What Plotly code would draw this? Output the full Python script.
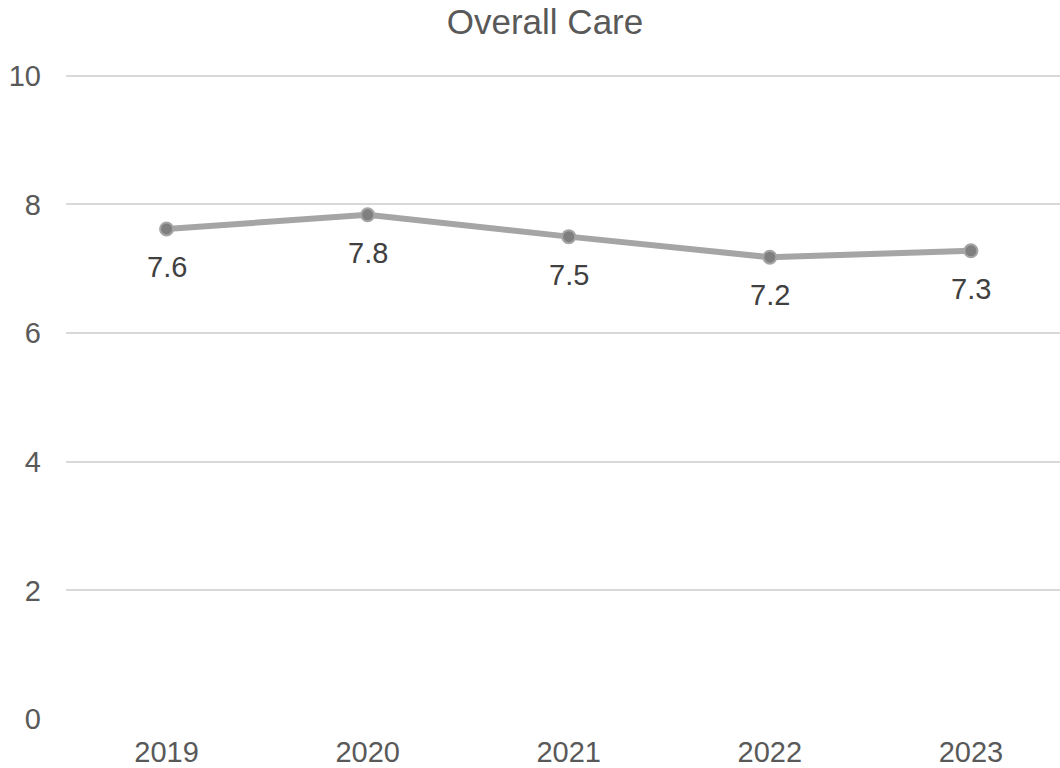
import plotly.graph_objects as go

years = ["2019", "2020", "2021", "2022", "2023"]
scores = [7.62, 7.84, 7.50, 7.18, 7.28]
y_ticks = [0, 2, 4, 6, 8, 10]

FONT = "Liberation Sans, Arial, sans-serif"

fig = go.Figure()
fig.add_trace(go.Scatter(
    x=years, y=scores,
    mode="lines+markers",
    line=dict(color="#A5A5A5", width=6),
    marker=dict(size=13, color="#7F7F7F", line=dict(color="#A5A5A5", width=2)),
    cliponaxis=False,
    showlegend=False,
))

# data labels below each point (category index used as x position)
for i, v in enumerate(scores):
    fig.add_annotation(x=i, y=v, xref="x", yref="y", text=f"{v:.1f}",
                       showarrow=False, yshift=-38, yanchor="middle",
                       font=dict(family=FONT, size=29, color="#404040"))

fig.update_layout(
    width=1060, height=768,
    margin=dict(l=66, r=0, t=72, b=49),
    paper_bgcolor="white", plot_bgcolor="white",
    title=dict(text="Overall Care", x=545/1060, xanchor="center",
               y=1 - 22/768, yanchor="middle",
               font=dict(family=FONT, size=35, color="#595959")),
    xaxis=dict(type="category", range=[-0.5, 4.443], showgrid=False,
               showline=False, zeroline=False, ticks="",
               tickfont=dict(family=FONT, size=29, color="#595959"),
               ticklabelstandoff=13),
    yaxis=dict(range=[0, 10.06], tickvals=y_ticks, showgrid=True,
               gridcolor="#D9D9D9", gridwidth=1.5, zeroline=False,
               showline=False, ticks="",
               tickfont=dict(family=FONT, size=29, color="#595959"),
               ticklabelstandoff=24),
)

fig.write_html("out.html",
               config={"displayModeBar": False},
               post_script="document.body.style.margin='0';document.body.style.padding='0';document.body.style.overflow='hidden';")
